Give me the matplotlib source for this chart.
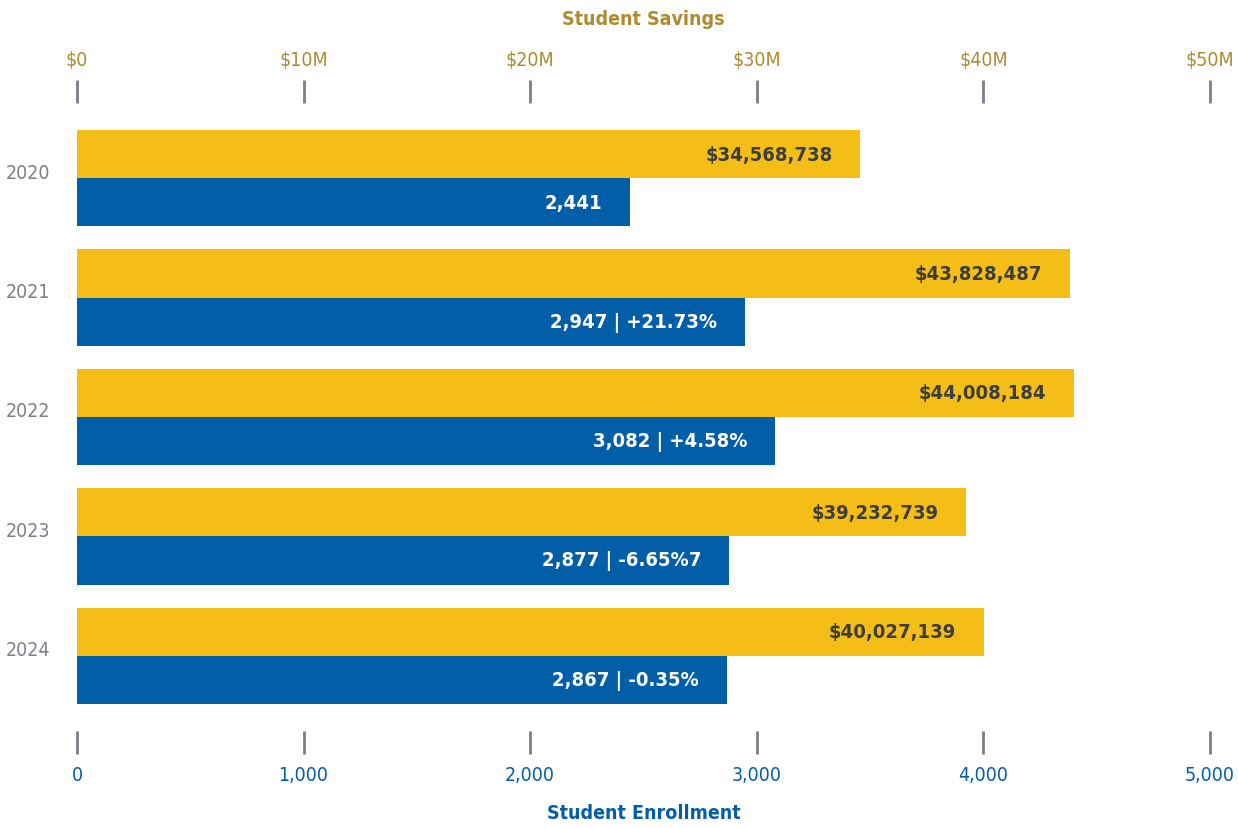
import matplotlib
matplotlib.use("Agg")
import matplotlib.pyplot as plt

years = ["2020", "2021", "2022", "2023", "2024"]
savings = [34568738, 43828487, 44008184, 39232739, 40027139]
enrollment = [2441, 2947, 3082, 2877, 2867]
enroll_labels = ["2,441", "2,947 | +21.73%", "3,082 | +4.58%", "2,877 | -6.65%7", "2,867 | -0.35%"]
savings_ticks = [0, 10e6, 20e6, 30e6, 40e6, 50e6]
savings_ticklabels = ["$0", "$10M", "$20M", "$30M", "$40M", "$50M"]
enroll_ticks = [0, 1000, 2000, 3000, 4000, 5000]
enroll_ticklabels = ["0", "1,000", "2,000", "3,000", "4,000", "5,000"]

YELLOW = "#F5BE16"
BLUE = "#035EA8"
GOLD = "#AE8B2F"
GRAY = "#7A8089"
DARK = "#3D3D3D"

plt.rcParams["font.family"] = ["DejaVu Sans"]
plt.rcParams["font.stretch"] = "condensed"

fig = plt.figure(figsize=(12.38, 8.29), dpi=100)
ax = fig.add_axes([77 / 1238, 1 - 732 / 829, 1133 / 1238, 628 / 829])
ax2 = ax.twiny()

pos = list(range(len(years)))
h = 0.402

# enrollment on the bottom scale, savings on the top scale
ax.barh([p + h / 2 for p in pos], enrollment, height=h, color=BLUE)
ax2.barh([p - h / 2 for p in pos], savings, height=h, color=YELLOW)

ax.set_xlim(0, 5000)
ax2.set_xlim(0, 50e6)
ax.set_ylim(4.628, -0.628)

for i in pos:
    ax.annotate(enroll_labels[i], (enrollment[i], i + h / 2), xytext=(-20, 0),
                textcoords="offset points", ha="right", va="center",
                color="white", fontsize=14.5, fontweight="bold")
    ax2.annotate(f"${savings[i]:,}", (savings[i], i - h / 2), xytext=(-20, 0),
                 textcoords="offset points", ha="right", va="center",
                 color=DARK, fontsize=14.5, fontweight="bold")

for a in (ax, ax2):
    for s in a.spines.values():
        s.set_visible(False)

# year labels sit a little above the split between the two bars
ax.set_yticks([p - 0.067 for p in pos])
ax.set_yticklabels(years)
ax.tick_params(axis="y", length=0, pad=19, labelsize=14, labelcolor=GRAY)

ax.set_xticks(enroll_ticks)
ax.set_xticklabels(enroll_ticklabels)
ax.tick_params(axis="x", direction="out", length=16.5, width=2, color=GRAY,
               pad=8, labelsize=14, labelcolor=BLUE)
ax.set_xlabel("Student Enrollment", fontsize=14, fontweight="bold", color=BLUE, labelpad=14)

ax2.set_xticks(savings_ticks)
ax2.set_xticklabels(savings_ticklabels)
ax2.tick_params(axis="x", direction="out", length=16.5, width=2, color=GRAY,
                pad=8, labelsize=14, labelcolor=GOLD)
ax2.set_xlabel("Student Savings", fontsize=14, fontweight="bold", color=GOLD, labelpad=19)

fig.savefig("out.png", dpi=100)
